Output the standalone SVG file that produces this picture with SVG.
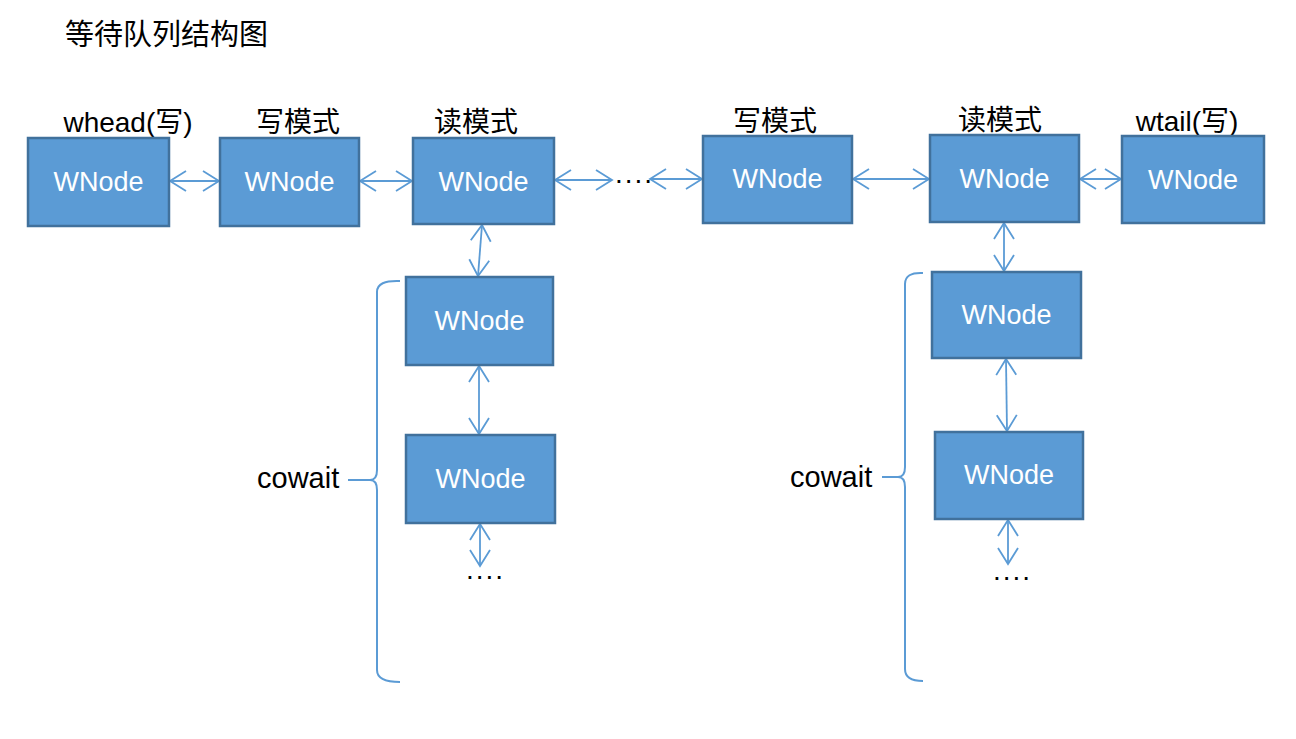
<svg xmlns="http://www.w3.org/2000/svg" width="1296" height="739" viewBox="0 0 1296 739">
<defs>
<style>
.box{fill:#5B9BD5;stroke:#41719C;stroke-width:2.5}
.nt{font-family:"Liberation Sans","Noto Sans CJK SC",sans-serif;font-size:27px;fill:#FFFFFF;text-anchor:middle}
.lbl{font-family:"Liberation Sans","Noto Sans CJK SC",sans-serif;font-size:28px;fill:#000000;text-anchor:middle}
.conn{stroke:#5B9BD5;stroke-width:1.8;fill:none;marker-start:url(#ah);marker-end:url(#ah)}
.brace{stroke:#5B9BD5;stroke-width:2;fill:none}
.dots{font-family:"Liberation Sans",sans-serif;font-size:28px;fill:#000000;letter-spacing:2px}
</style>
<marker id="ah" viewBox="-1 -1 19 22" refX="16" refY="10" markerWidth="19" markerHeight="22" markerUnits="userSpaceOnUse" orient="auto-start-reverse" overflow="visible">
<path d="M0,0 L16,10 L0,20" fill="none" stroke="#5B9BD5" stroke-width="1.8"/>
</marker>
</defs>
<rect width="1296" height="739" fill="#FFFFFF"/>
<text x="65" y="45" font-family="Liberation Sans,'Noto Sans CJK SC',sans-serif" font-size="29" fill="#000000">等待队列结构图</text>

<g id="labels">
<text class="lbl" x="128" y="132">whead(写)</text>
<text class="lbl" x="298" y="132">写模式</text>
<text class="lbl" x="476" y="132">读模式</text>
<text class="lbl" x="775" y="131">写模式</text>
<text class="lbl" x="1000" y="130">读模式</text>
<text class="lbl" x="1187" y="131">wtail(写)</text>
</g>

<g id="connectors">
<line class="conn" x1="170" y1="181" x2="219" y2="181"/>
<line class="conn" x1="360" y1="181" x2="412" y2="181"/>
<line class="conn" x1="555" y1="180" x2="612" y2="180"/>
<line class="conn" x1="650" y1="179" x2="702" y2="179"/>
<line class="conn" x1="853" y1="179" x2="929" y2="179"/>
<line class="conn" x1="1080" y1="179" x2="1121" y2="179"/>
<line class="conn" x1="482" y1="225" x2="478" y2="276"/>
<line class="conn" x1="479" y1="366" x2="479" y2="434"/>
<line class="conn" x1="480" y1="524" x2="480" y2="566"/>
<line class="conn" x1="1004" y1="223" x2="1004" y2="271"/>
<line class="conn" x1="1006" y1="359" x2="1007" y2="431"/>
<line class="conn" x1="1008" y1="520" x2="1008" y2="564"/>
</g>

<g id="ellipses">
<text class="dots" x="615" y="183">....</text>
<text class="dots" x="466" y="579">....</text>
<text class="dots" x="993" y="580">....</text>
</g>

<g id="node-whead"><rect class="box" x="28" y="138" width="141" height="88"/><text class="nt" x="98.5" y="191">WNode</text></g>
<g id="node-w1"><rect class="box" x="220" y="138" width="139" height="88"/><text class="nt" x="289.5" y="191">WNode</text></g>
<g id="node-r1"><rect class="box" x="413" y="138" width="141" height="86"/><text class="nt" x="483.5" y="191">WNode</text></g>
<g id="node-w2"><rect class="box" x="703" y="136" width="149" height="87"/><text class="nt" x="777.5" y="188">WNode</text></g>
<g id="node-r2"><rect class="box" x="930" y="135" width="149" height="87"/><text class="nt" x="1004.5" y="188">WNode</text></g>
<g id="node-wtail"><rect class="box" x="1122" y="136" width="142" height="87"/><text class="nt" x="1193" y="189">WNode</text></g>
<g id="node-c1a"><rect class="box" x="406" y="277" width="147" height="88"/><text class="nt" x="479.5" y="330">WNode</text></g>
<g id="node-c1b"><rect class="box" x="406" y="435" width="149" height="88"/><text class="nt" x="480.5" y="488">WNode</text></g>
<g id="node-c2a"><rect class="box" x="932" y="272" width="149" height="86"/><text class="nt" x="1006.5" y="324">WNode</text></g>
<g id="node-c2b"><rect class="box" x="935" y="432" width="148" height="87"/><text class="nt" x="1009" y="484">WNode</text></g>

<g id="cowait-left">
<path class="brace" d="M400,281 Q377,280 377,292 L377,470 Q377,480 370,480 Q377,480 377,490 L377,670 Q377,682 400,682"/>
<line class="brace" x1="348" y1="480" x2="370" y2="480"/>
<text x="257" y="488" font-family="Liberation Sans,sans-serif" font-size="29" fill="#000000">cowait</text>
</g>
<g id="cowait-right">
<path class="brace" d="M923,273 Q905,272 905,284 L905,467 Q905,477 898,477 Q905,477 905,487 L905,669 Q905,681 923,681"/>
<line class="brace" x1="882" y1="477" x2="898" y2="477"/>
<text x="790" y="487" font-family="Liberation Sans,sans-serif" font-size="29" fill="#000000">cowait</text>
</g>
</svg>
